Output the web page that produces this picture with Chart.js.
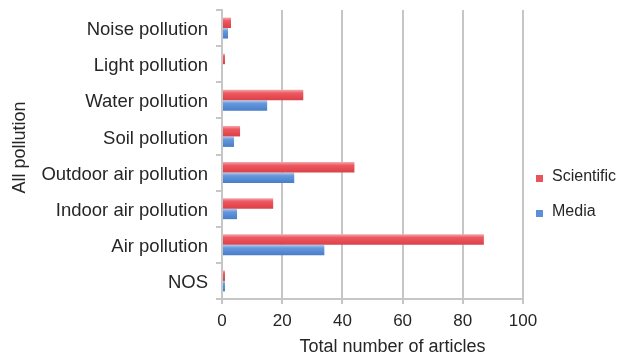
<!DOCTYPE html>
<html>
<head>
<meta charset="utf-8">
<script src="https://cdn.jsdelivr.net/npm/chart.js@4/dist/chart.umd.min.js"></script>
<style>
  html, body { margin: 0; padding: 0; background: #fff; }
  #wrap { width: 634px; height: 357px; position: relative; }
  #legend { position: absolute; left: 535px; top: 166px; font-family: 'Liberation Sans', Arial, sans-serif;
            font-size: 16px; color: #262626; }
  .item { position: relative; height: 20px; line-height: 20px; padding-left: 17px; margin-bottom: 15px; }
  .sw { position: absolute; left: 1px; top: 9px; width: 7px; height: 7px; }
</style>
</head>
<body>
<div id="wrap">
  <canvas id="c" width="634" height="357"></canvas>
  <div id="legend"></div>
</div>
<script>
// Pollution categories and article counts per source type
const categories = ["Noise pollution", "Light pollution", "Water pollution", "Soil pollution",
  "Outdoor air pollution", "Indoor air pollution", "Air pollution", "NOS"];
const scientific = [3, 1, 27, 6, 44, 17, 87, 1];
const media = [2, 0, 15, 4, 24, 5, 34, 1];
const xTicks = [0, 20, 40, 60, 80, 100];
const seriesNames = ["Scientific", "Media"];
const yTitle = "All pollution";
const xTitle = "Total number of articles";

const FONT = "'Liberation Sans', Arial, sans-serif";
const TEXT = '#262626';
const GRID = '#c6c6c6';
const CAT_PCT = 0.58;

// Shaded fill: light rim on top, saturated body, slightly darker bottom
const shades = [
  ['#f5a9ad', '#ec5a62', '#e4474f', '#d8434b'],
  ['#b3cdf0', '#6598dc', '#5287d0', '#4a7cc2']
];
const solid = ['#e9545c', '#5c8fd6'];

function barFill(ctx) {
  const chart = ctx.chart;
  const y = chart.scales && chart.scales.y;
  if (!chart.chartArea || !y || ctx.type !== 'data') return solid[ctx.datasetIndex];
  const center = y.getPixelForValue(ctx.dataIndex);
  const step = (y.bottom - y.top) / categories.length;
  const thick = step * CAT_PCT / 2;
  const top = center - step * CAT_PCT / 2 + ctx.datasetIndex * thick;
  const g = chart.ctx.createLinearGradient(0, top, 0, top + thick);
  const s = shades[ctx.datasetIndex];
  g.addColorStop(0, s[0]);
  g.addColorStop(0.3, s[1]);
  g.addColorStop(0.75, s[2]);
  g.addColorStop(1, s[3]);
  return g;
}

// Axis titles: vertical one slightly above the axis midpoint,
// horizontal one slightly right of the axis midpoint
const axisTitlesPlugin = {
  id: 'axisTitles',
  afterDraw(chart) {
    const c = chart.ctx;
    const area = chart.chartArea;
    c.save();
    c.fillStyle = TEXT;
    c.font = `18px ${FONT}`;
    c.textAlign = 'center';
    c.textBaseline = 'middle';
    c.fillText(xTitle, (area.left + area.right) / 2 + 20, 347);
    c.translate(20, (area.top + area.bottom) / 2 - 7);
    c.rotate(-Math.PI / 2);
    c.fillText(yTitle, 0, 0);
    c.restore();
  }
};

new Chart(document.getElementById('c'), {
  type: 'bar',
  data: {
    labels: categories,
    datasets: [
      { label: seriesNames[0], data: scientific, backgroundColor: barFill, borderWidth: 0 },
      { label: seriesNames[1], data: media, backgroundColor: barFill, borderWidth: 0 }
    ]
  },
  options: {
    indexAxis: 'y',
    responsive: false,
    animation: false,
    devicePixelRatio: 1,
    layout: { padding: { top: 10, right: 111, bottom: 0, left: 6 } },
    datasets: { bar: { categoryPercentage: CAT_PCT, barPercentage: 1.0 } },
    scales: {
      x: {
        min: 0, max: 100,
        afterBuildTicks: (axis) => { axis.ticks = xTicks.map(v => ({ value: v })); },
        afterFit: (axis) => { axis.height = 58; },
        grid: { color: GRID, lineWidth: 2, drawTicks: true, tickLength: 5, tickColor: GRID },
        border: { display: true, color: GRID, width: 2 },
        ticks: { color: TEXT, font: { family: FONT, size: 17 }, padding: 7, maxRotation: 0 },
        title: { display: false }
      },
      y: {
        offset: true,
        afterFit: (axis) => { axis.width = 216; axis.paddingTop = 0; axis.paddingBottom = 0; },
        grid: { offset: true, drawOnChartArea: false, drawTicks: true, tickLength: 6, color: GRID, lineWidth: 2 },
        border: { display: true, color: GRID, width: 2 },
        ticks: { color: TEXT, font: { family: FONT, size: 18.5 }, padding: 8, labelOffset: 2 },
        title: { display: false }
      }
    },
    plugins: {
      legend: { display: false },
      tooltip: { enabled: false }
    }
  },
  plugins: [axisTitlesPlugin]
});

// Legend on the right-hand side
const legend = document.getElementById('legend');
seriesNames.forEach((name, i) => {
  const item = document.createElement('div');
  item.className = 'item';
  const sw = document.createElement('span');
  sw.className = 'sw';
  sw.style.background = solid[i];
  item.appendChild(sw);
  item.appendChild(document.createTextNode(name));
  legend.appendChild(item);
});
</script>
</body>
</html>
